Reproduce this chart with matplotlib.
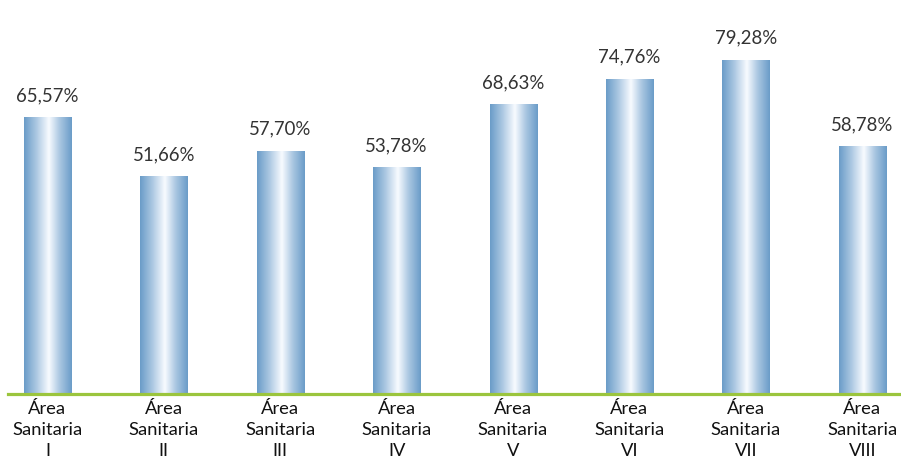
import numpy as np
import matplotlib
matplotlib.use("Agg")
import matplotlib.pyplot as plt
from matplotlib.colors import LinearSegmentedColormap

categories = ["Área\nSanitaria\nI", "Área\nSanitaria\nII", "Área\nSanitaria\nIII",
              "Área\nSanitaria\nIV", "Área\nSanitaria\nV", "Área\nSanitaria\nVI",
              "Área\nSanitaria\nVII", "Área\nSanitaria\nVIII"]
values = [65.57, 51.66, 57.70, 53.78, 68.63, 74.76, 79.28, 58.78]

plt.rcParams['font.family'] = ['Lato', 'DejaVu Sans']

fig = plt.figure(figsize=(9.01, 4.62), dpi=100)
ax = fig.add_axes([8/901, 68/462, 893/901, 394/462])

x = np.arange(len(values))
width = 0.404
bars = ax.bar(x, values, width=width, color='none', edgecolor='none')

cmap = LinearSegmentedColormap.from_list(
    'g', [(0.0, '#6a9cc8'), (0.25, '#a9c6e1'), (0.52, '#f8fbff'), (0.75, '#a9c6e1'), (1.0, '#6a9cc8')])
grad = np.linspace(0, 1, 256).reshape(1, -1)
for b in bars:
    x0 = b.get_x(); w = b.get_width(); h = b.get_height()
    im = ax.imshow(grad, cmap=cmap, aspect='auto', extent=[x0, x0 + w, 0, h],
                   interpolation='bilinear', zorder=2)
    im.set_clip_path(b)
    ax.add_patch(b)

for xi, v in zip(x, values):
    ax.annotate(f"{v:.2f}%".replace('.', ','), (xi, v), xytext=(0, 11.5),
                textcoords='offset points', ha='center', va='baseline',
                fontsize=13.4, color='#333333')

ax.set_xlim(-0.339, 7.333)
ax.set_ylim(0, 93.4)
ax.set_xticks(x)
ax.set_xticklabels(categories, fontsize=13.2, color='#111111', linespacing=1.38)
ax.tick_params(axis='x', length=0, pad=5)
ax.set_yticks([])
for s in ['top', 'left', 'right']:
    ax.spines[s].set_visible(False)
ax.spines['bottom'].set_color('#9bc53d')
ax.spines['bottom'].set_linewidth(2.3)
ax.spines['bottom'].set_zorder(3)

fig.savefig('out.png', dpi=100)
